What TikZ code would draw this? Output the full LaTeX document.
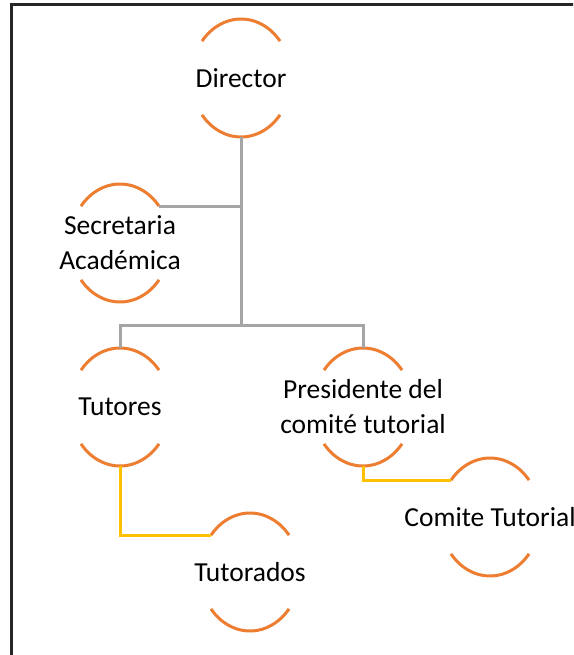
\documentclass[tikz,border=0pt]{standalone}
\usepackage{fontspec}
\setmainfont{Carlito}
\usetikzlibrary{calc,shapes.geometric}
\definecolor{arcorange}{HTML}{ED7D31}
\definecolor{linegray}{HTML}{A5A5A5}
\definecolor{lineyellow}{HTML}{FFC000}
\definecolor{frame}{HTML}{262626}
\begin{document}
\begin{tikzpicture}[x=1pt,y=-1pt,
  unit/.style={ellipse,minimum width=100pt,minimum height=118pt,inner sep=0pt,
    align=center,font=\fontsize{27.5}{35}\selectfont},
  arcline/.style={draw=arcorange,line width=3pt},
  grayline/.style={draw=linegray,line width=3pt},
  yellowline/.style={draw=lineyellow,line width=3pt}]
\useasboundingbox (0,0) rectangle (573,655);
\clip (0,0) rectangle (573,655);
\draw[frame,line width=3pt] (11,5) rectangle (620,700);
% nodes
\node[unit] (dir)  at (241,78)  {Director};
\node[unit] (sec)  at (120,243) {Secretaria\\Académica};
\node[unit] (tut)  at (120,407) {Tutores};
\node[unit] (pres) at (363,407) {Presidente del\\comité tutorial};
\node[unit] (tdos) at (250,572) {Tutorados};
\node[unit] (com)  at (490,517) {Comite Tutorial};
% arcs
\foreach \n in {dir,sec,tut,pres,tdos,com}{
  \draw[arcline] ($(\n.center)+(38.7:50pt and 59pt)$)
     arc[start angle=38.7,end angle=141.3,x radius=50pt,y radius=59pt];
  \draw[arcline] ($(\n.center)+(218.7:50pt and 59pt)$)
     arc[start angle=218.7,end angle=321.3,x radius=50pt,y radius=59pt];
}
% connectors
\coordinate (bar) at (241,325);
\coordinate (secR) at ($(sec.center)+(38.7:50pt and 59pt)$);
\coordinate (tdosL) at ($(tdos.center)+(141.3:50pt and 59pt)$);
\coordinate (comL) at ($(com.center)+(141.3:50pt and 59pt)$);
\draw[grayline] (dir.south) -- (bar);
\draw[grayline] (secR) -- (secR -| dir.south);
\draw[grayline] (tut.north) |- (bar) -| (pres.north);
\draw[yellowline] (tut.south) |- (tdosL);
\draw[yellowline] (pres.south) |- (comL);
\end{tikzpicture}
\end{document}
